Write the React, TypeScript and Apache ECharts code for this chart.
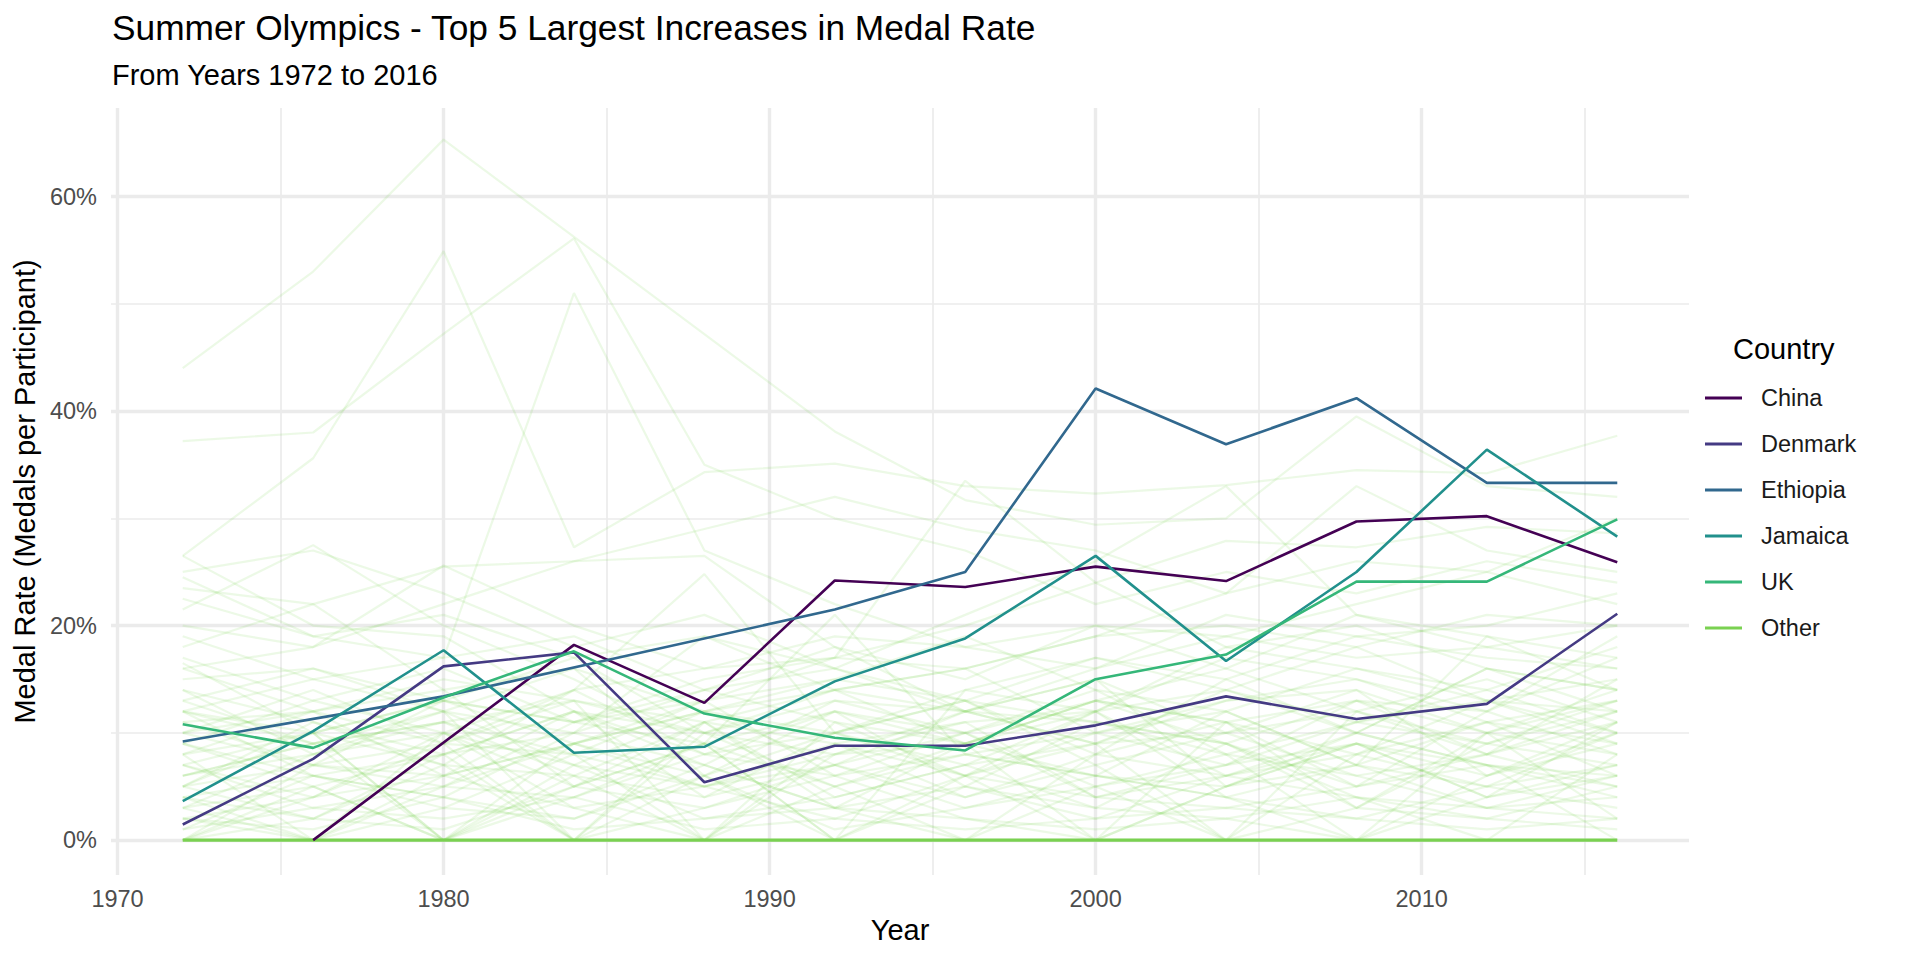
import React, { useEffect, useRef } from "react";
import * as echarts from "echarts";

const years = [1972, 1976, 1980, 1984, 1988, 1992, 1996, 2000, 2004, 2008, 2012, 2016];

const countryNames = ["China", "Denmark", "Ethiopia", "Jamaica", "UK", "Other"];
const countryColors = ["#440154", "#443A83", "#31688E", "#21908C", "#35B779", "#7AD151"];

const china = [null, 0, null, 0.182, 0.128, 0.242, 0.236, 0.255, 0.2415, 0.297, 0.302, 0.259];
const denmark = [0.0146, 0.0758, 0.162, 0.175, 0.054, 0.088, 0.088, 0.107, 0.134, 0.113, 0.127, 0.211];
const ethiopia = [0.092, null, 0.134, null, null, 0.215, 0.25, 0.421, 0.369, 0.412, 0.333, 0.333];
const jamaica = [0.0364, 0.1016, 0.177, 0.0814, 0.087, 0.148, 0.188, 0.265, 0.167, 0.25, 0.364, 0.283];
const uk = [0.108, 0.086, 0.133, 0.176, 0.118, 0.0954, 0.0836, 0.15, 0.173, 0.241, 0.241, 0.299];
const otherZero = [0, 0, 0, 0, 0, 0, 0, 0, 0, 0, 0, 0];

const otherCountries = [
  [0.44, 0.53, 0.653, null, null, 0.381, 0.317, 0.294, 0.3, 0.395, 0.33, 0.32],
  [0.265, 0.356, 0.549, 0.273, 0.343, 0.351, 0.33, 0.323, 0.331, 0.345, 0.342, 0.377],
  [0.372, 0.38, 0.472, 0.561, 0.35, 0.3, 0.27, 0.22, 0.25, 0.23, 0.26, 0.24],
  [0.12, 0.15, 0.17, 0.51, 0.27, 0.22, 0.18, 0.2, 0.16, 0.21, 0.19, 0.17],
  [0.16, 0.18, 0.22, 0.26, 0.29, 0.32, 0.29, 0.27, 0.23, 0.26, 0.25, 0.22],
  [0.1, 0.12, 0.09, 0.14, 0.248, 0.1, 0.07, 0.12, 0.14, 0.11, 0.13, 0.15],
  [0.08, 0.1, 0.13, 0.11, 0.15, 0.17, 0.2, 0.24, 0.279, 0.273, 0.292, 0.286],
  [0.05, 0.07, 0.06, 0.09, 0.12, 0.14, 0.16, 0.19, 0.23, 0.33, 0.27, 0.25],
  [0.12, 0.1, 0.13, 0.17, 0.19, 0.16, 0.21, 0.26, 0.33, 0.21, 0.18, 0.2],
  [0.06, 0.09, 0.11, 0.08, 0.13, 0.17, 0.335, 0.24, 0.18, 0.2, 0.16, 0.14],
  [0.09, 0.06, 0.08, 0.12, 0.1, 0.14, 0.12, 0.16, 0.19, 0.22, 0.25, 0.3],
  [0.265, 0.2, 0.19, 0.12, 0.08, 0.1, 0.06, 0, 0.05, 0.09, 0.04, 0.07],
  [0.245, 0.19, 0.21, 0.17, 0.1, 0.13, 0.12, 0.09, 0.14, 0.1, 0.16, 0.12],
  [0.225, 0.19, 0.17, 0.19, 0.14, 0.16, 0.12, 0.15, 0.1, 0.12, 0.08, 0.11],
  [0.215, 0.275, 0.2, 0.15, 0.09, 0.12, 0.1, 0.13, 0.11, 0.13, 0.1, 0.14],
  [0.235, 0.22, 0.255, 0.26, 0.265, 0.18, 0.15, 0.2, 0.19, 0.17, 0.18, 0.16],
  [0.19, 0.15, 0.12, 0.1, 0.19, 0.14, 0.09, 0.12, 0.17, 0.15, 0.12, 0.19],
  [0.165, 0.1, 0, 0.09, 0.05, 0.07, 0.04, 0.08, 0.06, 0.09, 0.07, 0.05],
  [0.14, 0.08, 0.11, 0.06, 0, 0.05, 0.08, 0.06, 0.04, 0, 0.06, 0.09],
  [0.12, 0.06, 0.04, 0.1, 0.07, 0.03, 0, 0.05, 0.08, 0.06, 0.03, 0.04],
  [0.1, 0.14, 0.09, 0, 0.11, 0.09, 0.06, 0.1, 0.07, 0.11, 0.09, 0.12],
  [0.08, 0, 0.06, 0.12, 0.04, 0.1, 0.13, 0.07, 0, 0.08, 0.11, 0.06],
  [0.06, 0.09, 0, 0.05, 0.09, 0, 0.05, 0.11, 0.09, 0.04, 0, 0.08],
  [0.04, 0.02, 0.08, 0, 0.03, 0.06, 0.02, 0, 0.05, 0.07, 0.05, 0.03],
  [0.03, 0.05, 0, 0.07, 0.02, 0.04, 0.07, 0.03, 0.02, 0, 0.04, 0.06],
  [0.02, 0, 0.03, 0.02, 0.06, 0.01, 0.03, 0.05, 0, 0.03, 0.02, 0.01],
  [0, 0.04, 0.1, 0.03, 0, 0.08, 0.11, 0.04, 0.06, 0.1, 0.07, 0],
  [0.11, 0.12, 0.14, 0.16, 0.12, 0.1, 0.14, 0.17, 0.15, 0.19, 0.17, 0.16],
  [0.17, 0.13, 0.1, 0.14, 0.16, 0.19, 0.18, 0.16, 0.21, 0.19, 0.2, 0.23],
  [0.09, 0.13, 0.16, 0.11, 0.13, 0.15, 0.19, 0.14, 0.12, 0.16, 0.14, 0.18],
  [0.05, 0.11, 0.07, 0.14, 0.08, 0.12, 0.09, 0.13, 0.16, 0.12, 0.15, 0.11],
  [0.25, 0.27, 0.23, 0.18, 0.21, 0.16, 0.13, 0.17, 0.14, 0.18, 0.13, 0.1],
  [0.2, 0.18, 0.256, 0.2, 0.16, 0.17, 0.16, 0.19, 0.2, 0.18, 0.21, 0.2],
  [0, 0.07, 0.05, 0.09, 0.12, 0.07, 0.1, 0.14, 0.08, 0, 0.1, 0.13],
  [0.07, 0.04, 0.09, 0.13, 0, 0.11, 0.06, 0.09, 0.13, 0.14, 0.06, 0.1],
  [0.13, 0.09, 0.12, 0, 0.1, 0.05, 0.09, 0, 0.11, 0.05, 0.08, 0.15],
  [0.15, 0.16, 0.13, 0.11, 0.14, 0.18, 0.12, 0.11, 0.09, 0.13, 0.12, 0.17],
  [0.03, 0.08, 0.12, 0.16, 0.06, 0, 0.14, 0.12, 0.18, 0.16, 0.13, 0.09],
  [0.01, 0.03, 0.02, 0.04, 0.01, 0.02, 0.01, 0.02, 0.03, 0.02, 0.01, 0.02],
  [0.02, 0.01, 0.04, 0.01, 0.02, 0.03, 0.02, 0.01, 0.02, 0.04, 0.03, 0.02],
  [0.18, 0.22, 0.14, 0.05, 0.09, 0.21, 0.08, 0.06, 0.12, 0.07, 0.19, 0.14],
  [0.04, 0.06, 0.03, 0.08, 0.05, 0.09, 0.04, 0.07, 0.1, 0.06, 0.08, 0.05],
  [0.07, 0.03, 0.05, 0.04, 0.08, 0.06, 0.1, 0.05, 0.07, 0.09, 0.06, 0.11],
  [0.09, 0.05, 0, 0.06, 0.11, 0.04, 0.07, 0.09, 0, 0.12, 0.09, 0.07],
  [0.05, 0.1, 0.07, 0, 0.06, 0.12, 0.05, 0.03, 0.09, 0.05, 0.12, 0.08],
  [0.11, 0.07, 0.09, 0.08, 0, 0.09, 0.11, 0.12, 0.06, 0.08, 0.05, 0.1],
  [0.03, 0, 0.05, 0.11, 0.09, 0.05, 0, 0.08, 0.11, 0.03, 0.09, 0.13],
  [0.06, 0.08, 0.1, 0.07, 0.05, 0.08, 0.09, 0.06, 0.05, 0.1, 0.07, 0.06],
  [0.08, 0.12, 0.06, 0.09, 0.13, 0.06, 0.08, 0.1, 0.12, 0.07, 0.11, 0.09],
  [0, 0.05, 0.08, 0.12, 0.07, 0.13, 0.1, 0.04, 0.07, 0.13, 0.08, 0.12],
  [0.12, 0.09, 0.11, 0.13, 0.1, 0.08, 0.12, 0.09, 0.1, 0.14, 0.1, 0.08],
  [0.02, 0.04, 0.06, 0.03, 0.05, 0.02, 0.06, 0.04, 0.03, 0.05, 0.07, 0.04],
  [0.05, 0.02, 0.01, 0.05, 0.03, 0.07, 0.03, 0.06, 0.04, 0.02, 0.05, 0.07],
  [0.14, 0.11, 0.08, 0.1, 0.14, 0.11, 0.09, 0.13, 0.11, 0.08, 0.13, 0.12],
  [0.01, 0.06, 0.04, 0.02, 0.07, 0.03, 0.05, 0.02, 0.06, 0.04, 0.02, 0.05],
  [0.1, 0.07, 0.13, 0.09, 0.06, 0.1, 0.13, 0.11, 0.08, 0.11, 0.14, 0.1],
  [0.16, 0.12, 0.15, 0.13, 0.11, 0.14, 0.16, 0.1, 0.13, 0.15, 0.11, 0.13],
  [0.07, 0.1, 0, 0.04, 0.09, 0, 0.06, 0.12, 0.04, 0.07, 0.03, 0.06],
  [0.13, 0.16, 0.12, 0.07, 0.12, 0.15, 0.13, 0.08, 0.15, 0.1, 0.16, 0.14],
  [0, 0.02, 0.07, 0.06, 0.04, 0.07, 0.12, 0.15, 0.05, 0.09, 0.04, 0.11],
  [0.04, 0, 0.1, 0.05, 0.11, 0.03, 0.09, 0.13, 0.09, 0.03, 0.1, 0.02],
];

const xMajor = [1970, 1980, 1990, 2000, 2010];
const xMinor = [1975, 1985, 1995, 2005, 2015];
const yMajor = [0, 0.2, 0.4, 0.6];
const yMinor = [0.1, 0.3, 0.5];

const FONT = "'Liberation Sans', Arial, Helvetica, sans-serif";

function pairs(vals: (number | null)[]) {
  return years.map((y, i) => [y, vals[i]]);
}

export default function App() {
  const ref = useRef<HTMLDivElement>(null);
  useEffect(() => {
    if (!ref.current) return;
    const chart = echarts.init(ref.current, undefined, { renderer: "svg" });
    const mainVals = [china, denmark, ethiopia, jamaica, uk];
    const gridMajor = { color: "#EBEBEB", width: 3.4, type: "solid" };
    const gridMinor = { color: "#EBEBEB", width: 1.7, type: "solid" };
    const series: any[] = [];
    series.push({
      type: "line",
      name: "gridlines",
      data: [],
      silent: true,
      z: 1,
      markLine: {
        silent: true,
        symbol: ["none", "none"],
        label: { show: false },
        animation: false,
        z: 1,
        data: [
          ...xMinor.map((v) => ({ xAxis: v, lineStyle: gridMinor })),
          ...yMinor.map((v) => ({ yAxis: v, lineStyle: gridMinor })),
          ...xMajor.map((v) => ({ xAxis: v, lineStyle: gridMajor })),
          ...yMajor.map((v) => ({ yAxis: v, lineStyle: gridMajor })),
        ],
      },
    });
    otherCountries.forEach((vals, i) => {
      series.push({
        type: "line",
        name: "other-" + i,
        data: pairs(vals),
        connectNulls: true,
        showSymbol: false,
        symbol: "none",
        silent: true,
        z: 2,
        lineStyle: { color: "#7AD151", width: 2.2, opacity: 0.14 },
      });
    });
    series.push({
      type: "line",
      name: "Other",
      data: pairs(otherZero),
      showSymbol: false,
      symbol: "none",
      silent: true,
      z: 3,
      itemStyle: { color: "#7AD151" },
      lineStyle: { color: "#7AD151", width: 3.4 },
    });
    mainVals.forEach((vals, i) => {
      series.push({
        type: "line",
        name: countryNames[i],
        data: pairs(vals),
        connectNulls: true,
        showSymbol: false,
        symbol: "none",
        silent: true,
        z: 4,
        itemStyle: { color: countryColors[i] },
        lineStyle: { color: countryColors[i], width: 2.6 },
      });
    });

    chart.setOption({
      animation: false,
      backgroundColor: "#FFFFFF",
      textStyle: { fontFamily: FONT },
      title: [
        {
          text: "Summer Olympics - Top 5 Largest Increases in Medal Rate",
          left: 112,
          top: 10,
          padding: 0,
          textStyle: { fontSize: 35.3, fontWeight: "normal", color: "#000000", fontFamily: FONT },
        },
        {
          text: "From Years 1972 to 2016",
          left: 112,
          top: 60,
          padding: 0,
          textStyle: { fontSize: 29, fontWeight: "normal", color: "#000000", fontFamily: FONT },
        },
        {
          text: "Country",
          left: 1733,
          top: 334,
          padding: 0,
          textStyle: { fontSize: 29, fontWeight: "normal", color: "#000000", fontFamily: FONT },
        },
      ],
      legend: {
        orient: "vertical",
        left: 1705,
        top: 386,
        icon: "rect",
        itemWidth: 37,
        itemHeight: 3,
        itemGap: 22,
        padding: 0,
        data: countryNames,
        selectedMode: false,
        textStyle: { fontSize: 23.5, color: "#1A1A1A", fontFamily: FONT, padding: [0, 0, 0, 14] },
      },
      grid: { left: 111, right: 231, top: 108, bottom: 85, containLabel: false },
      xAxis: {
        type: "value",
        min: 1969.8,
        max: 2018.2,
        name: "Year",
        nameLocation: "middle",
        nameGap: 40,
        nameTextStyle: { fontSize: 29, color: "#000000", fontFamily: FONT },
        axisLine: { show: false },
        axisTick: { show: false },
        splitLine: { show: false },
        minorSplitLine: { show: false },
        axisLabel: {
          customValues: xMajor,
          formatter: (v: number) => String(Math.round(v)),
          fontSize: 23.5,
          color: "#4D4D4D",
          margin: 12,
          fontFamily: FONT,
        },
      },
      yAxis: {
        type: "value",
        min: -0.0325,
        max: 0.6825,
        name: "Medal Rate (Medals per Participant)",
        nameLocation: "middle",
        nameGap: 70,
        nameTextStyle: { fontSize: 29, color: "#000000", fontFamily: FONT },
        axisLine: { show: false },
        axisTick: { show: false },
        splitLine: { show: false },
        axisLabel: {
          customValues: yMajor,
          formatter: (v: number) => Math.round(v * 100) + "%",
          fontSize: 23.5,
          color: "#4D4D4D",
          margin: 14,
          fontFamily: FONT,
        },
      },
      series,
    });
    return () => chart.dispose();
  }, []);
  return (
    <div
      ref={ref}
      style={{ position: "absolute", left: 0, top: 0, width: 1920, height: 960, background: "#fff" }}
    />
  );
}
